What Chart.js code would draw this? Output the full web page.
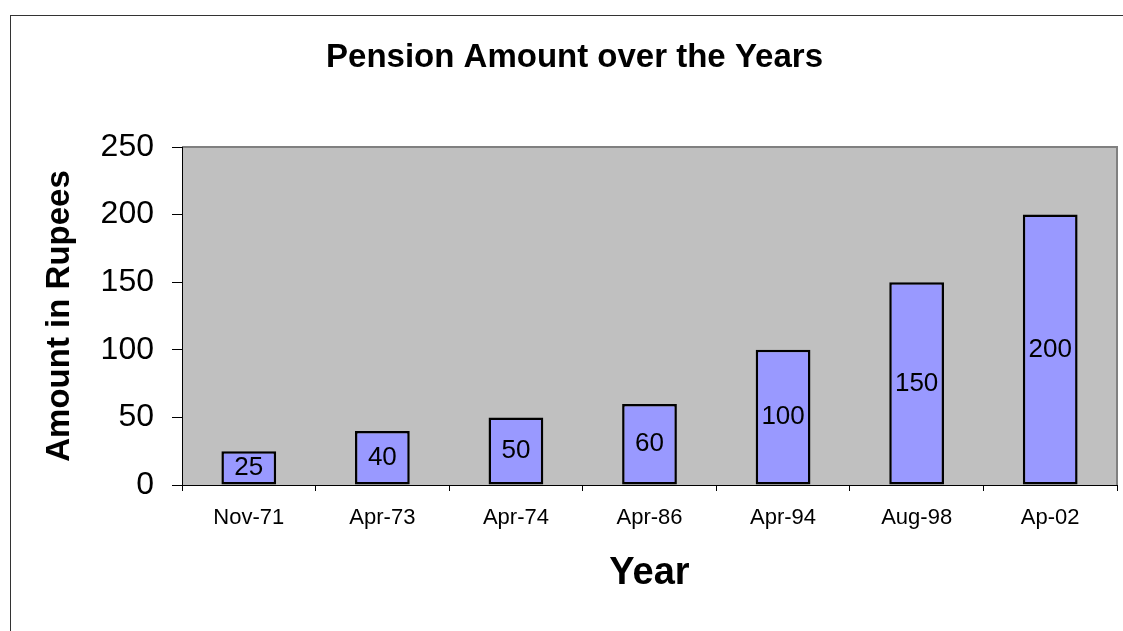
<!DOCTYPE html>
<html>
<head>
<meta charset="utf-8">
<script src="https://cdn.jsdelivr.net/npm/chart.js@4/dist/chart.umd.min.js"></script>
<style>
  body { margin: 0; background: #fff; }
  #wrap { width: 1123px; height: 631px; }
</style>
</head>
<body>
<div id="wrap"><canvas id="pension" width="1123" height="631"></canvas></div>
<script>
const years = ["Nov-71", "Apr-73", "Apr-74", "Apr-86", "Apr-94", "Aug-98", "Ap-02"];
const amounts = [25, 40, 50, 60, 100, 150, 200];
const yTicks = [0, 50, 100, 150, 200, 250];

const FONT = "'Liberation Sans', Arial, sans-serif";

// white page, outer frame, grey plot area and the heading
const frame = {
    id: "frame",
    beforeDraw(chart) {
        const ctx = chart.ctx, a = chart.chartArea;
        ctx.save();
        ctx.fillStyle = "#fff";
        ctx.fillRect(0, 0, chart.width, chart.height);
        ctx.strokeStyle = "#333";
        ctx.lineWidth = 1;
        ctx.strokeRect(10.5, 15.5, 1300, 800);
        ctx.fillStyle = "#c0c0c0";
        ctx.fillRect(a.left, a.top, a.right - a.left, a.bottom - a.top);
        ctx.strokeStyle = "#808080";
        ctx.lineWidth = 2;
        ctx.beginPath();
        ctx.moveTo(a.left, a.top);
        ctx.lineTo(a.right, a.top);
        ctx.lineTo(a.right, a.bottom);
        ctx.stroke();
        ctx.fillStyle = "#000";
        ctx.font = "bold 33px " + FONT;
        ctx.textAlign = "center";
        ctx.textBaseline = "middle";
        ctx.fillText("Pension Amount over the Years", 574.5, 58);
        ctx.restore();
    }
};

// value written in the middle of each bar
const barValues = {
    id: "barValues",
    afterDatasetsDraw(chart) {
        const ctx = chart.ctx;
        const meta = chart.getDatasetMeta(0);
        ctx.save();
        ctx.fillStyle = "#000";
        ctx.font = "26px " + FONT;
        ctx.textAlign = "center";
        ctx.textBaseline = "middle";
        meta.data.forEach((bar, i) => {
            ctx.fillText(String(amounts[i]), bar.x, (bar.y + bar.base) / 2);
        });
        ctx.restore();
    }
};

new Chart(document.getElementById("pension"), {
    type: "bar",
    data: {
        labels: years,
        datasets: [{
            label: "Amount",
            data: amounts,
            backgroundColor: "#9999ff",
            borderColor: "#000",
            borderWidth: 2.5,
            borderSkipped: false,
            categoryPercentage: 1,
            barPercentage: 0.41
        }]
    },
    options: {
        responsive: false,
        animation: false,
        layout: { padding: { left: 0, top: 147, right: 6, bottom: 0 } },
        plugins: {
            legend: { display: false },
            title: { display: false },
            tooltip: { enabled: false }
        },
        scales: {
            x: {
                grid: { offset: true, drawOnChartArea: false, drawTicks: true, tickLength: 6, color: "#000" },
                border: { display: true, color: "#000", width: 1 },
                ticks: { color: "#000", font: { family: FONT, size: 22 }, padding: 14, maxRotation: 0 },
                title: {
                    display: true, text: "Year", color: "#000",
                    font: { family: FONT, size: 38, weight: "bold" },
                    padding: { top: 0, bottom: 35 }
                },
                afterFit(scale) { scale.height = 146; }
            },
            y: {
                min: 0,
                max: 250,
                afterBuildTicks(scale) { scale.ticks = yTicks.map(v => ({ value: v })); },
                grid: { drawOnChartArea: false, drawTicks: true, tickLength: 10, color: "#000" },
                border: { display: true, color: "#000", width: 1 },
                ticks: { color: "#000", font: { family: FONT, size: 32 }, padding: 18 },
                title: {
                    display: true, text: "Amount in Rupees", color: "#000",
                    font: { family: FONT, size: 33, weight: "bold" },
                    padding: { top: 40, bottom: 0 }
                },
                afterFit(scale) { scale.width = 182; }
            }
        }
    },
    plugins: [frame, barValues]
});
</script>
</body>
</html>
